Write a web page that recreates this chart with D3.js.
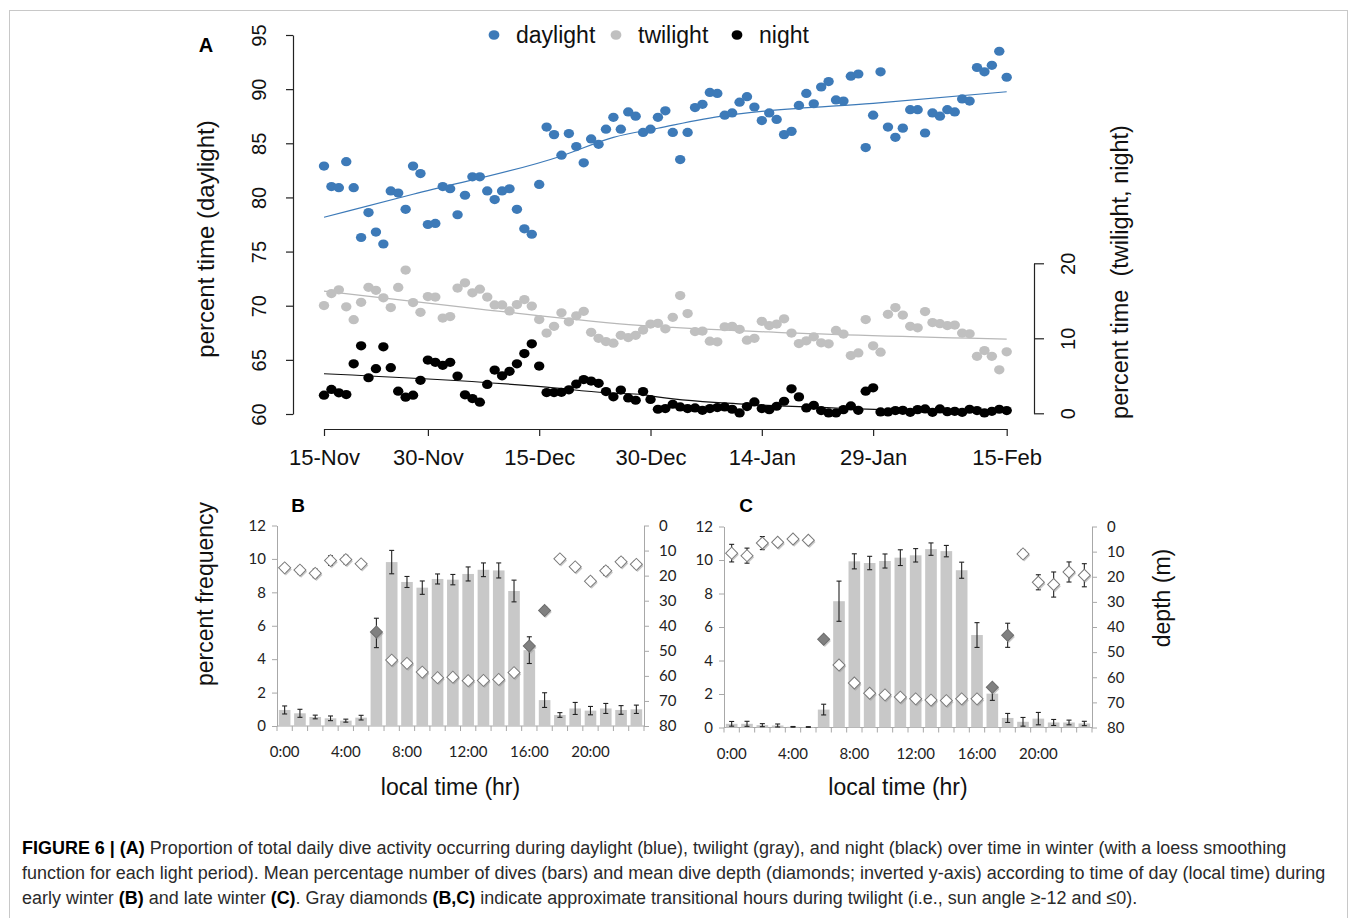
<!DOCTYPE html>
<html>
<head>
<meta charset="utf-8">
<script src="https://cdn.jsdelivr.net/npm/d3@7"></script>
<style>
  body { margin: 0; background: #fff; }
  svg { display: block; }
</style>
</head>
<body>
<svg id="fig" width="1358" height="918"></svg>
<script>
// ---- panel A data (one point per day, day index 0..92) ----
const dayTickIdx = [0, 14, 29, 44, 59, 74, 92];
const dayTickLabels = ["15-Nov", "30-Nov", "15-Dec", "30-Dec", "14-Jan", "29-Jan", "15-Feb"];

const daylight = [82.9, 81.0, 80.9, 83.3, 80.9, 76.3, 78.6, 76.8, 75.7, 80.6,
  80.4, 78.9, 82.9, 82.2, 77.5, 77.6, 81.0, 80.8, 78.4, 80.2,
  81.9, 81.9, 80.6, 79.8, 80.6, 80.8, 78.9, 77.1, 76.6, 81.2,
  86.5, 85.8, 83.9, 85.9, 84.7, 83.2, 85.4, 84.9, 86.3, 87.4,
  86.3, 87.9, 87.5, 86.0, 86.3, 87.4, 88.0, 86.0, 83.5, 86.0,
  88.3, 88.6, 89.7, 89.6, 87.6, 87.8, 88.8, 89.3, 88.35, 87.1,
  87.8, 87.2, 85.8, 86.1, 88.5, 89.6, 88.65, 90.2, 90.7, 89.0,
  88.9, 91.2, 91.4, 84.6, 87.6, 91.6, 86.5, 85.55, 86.4, 88.1,
  88.1, 85.95, 87.8, 87.5, 88.1, 87.9, 89.1, 88.9, 92.0, 91.6,
  92.2, 93.5, 91.1];

const twilight = [14.36, 15.97, 16.47, 14.2, 12.48, 14.8, 16.8, 16.4, 15.4, 14.1,
  16.78, 19.1, 14.77, 13.47, 15.57, 15.5, 12.7, 12.9, 16.7, 17.4,
  16.06, 16.55, 15.5, 14.45, 14.45, 13.65, 14.5, 15.17, 14.3, 12.5,
  10.7, 11.6, 13.4, 12.2, 13.0, 13.6, 10.8, 10.0, 9.57, 9.35,
  10.4, 10.1, 10.4, 11.1, 11.9, 12.0, 11.27, 12.8, 15.7, 13.3,
  10.9, 10.96, 9.62, 9.53, 11.54, 11.6, 11.2, 9.75, 10.0, 12.26,
  11.7, 11.9, 12.6, 10.7, 9.3, 9.66, 10.2, 9.4, 9.26, 11.05,
  10.56, 7.7, 8.05, 12.5, 9.0, 8.15, 13.2, 14.1, 13.1, 11.6,
  11.4, 13.56, 12.1, 11.95, 11.7, 11.77, 10.7, 10.6, 7.6, 8.36,
  7.6, 5.8, 8.2];

const night = [2.42, 3.18, 2.73, 2.5, 6.6, 9.0, 4.74, 5.95, 8.86, 6.08,
  2.95, 2.15, 2.42, 4.4, 7.1, 6.8, 6.4, 6.8, 4.97, 2.46,
  1.97, 1.48, 3.85, 5.77, 5.0, 5.6, 6.6, 7.96, 9.26, 6.3,
  2.77, 2.77, 2.8, 3.13, 3.9, 4.5, 4.3, 4.0, 2.9, 2.2,
  3.1, 2.05, 1.74, 2.9, 1.84, 0.54, 0.63, 1.21, 0.85, 0.63,
  0.72, 0.4, 0.63, 0.76, 0.85, 0.54, 0.05, 0.9, 1.52, 0.63,
  0.49, 0.94, 1.61, 3.27, 2.19, 0.72, 1.07, 0.36, 0.05, 0.05,
  0.49, 0.98, 0.4, 2.95, 3.4, 0.18, 0.18, 0.36, 0.4, 0.13,
  0.49, 0.58, 0.13, 0.58, 0.22, 0.27, 0.13, 0.54, 0.36, 0.05,
  0.27, 0.54, 0.36];

// loess curves: [day index, value]
const daylightFit = [[0, 78.17], [12, 80.29], [32, 83.83], [39, 85.55], [45, 86.39], [54, 87.55], [60, 88.01], [74, 88.69], [92, 89.76]];
const twilightFit = [[0, 16.3], [21, 13.9], [43, 11.7], [47, 11.45], [61, 10.8], [92, 9.9]];
const nightFit = [[0, 5.27], [30, 3.49], [38, 2.73], [43, 2.5], [44, 2.32], [57, 1.21], [69, 0.71], [75, 0.5], [92, 0.3]];

// ---- panels B and C data (hour of day 0..23) ----
const hours = d3.range(24);
const hourTicks = [0, 4, 8, 12, 16, 20];

const earlyPct = [0.96, 0.76, 0.54, 0.46, 0.32, 0.5, 5.57, 9.81, 8.62, 8.28, 8.8, 8.76,
  9.1, 9.35, 9.31, 8.08, 4.54, 1.55, 0.66, 1.05, 0.92, 1.05, 0.96, 1.0];
const earlyPctErr = [0.24, 0.24, 0.11, 0.14, 0.09, 0.14, 0.88, 0.7, 0.33, 0.4, 0.3, 0.31,
  0.42, 0.41, 0.45, 0.65, 0.8, 0.44, 0.14, 0.36, 0.25, 0.3, 0.26, 0.25];
const earlyDepth = [16.9, 17.8, 19.1, 14.0, 13.6, 15.3, 42.5, 53.7, 55.0, 58.5, 60.7, 60.5,
  61.9, 61.8, 61.4, 58.7, 48.1, 33.9, 13.3, 16.5, 22.2, 18.1, 14.5, 15.5];
const earlyDepthErr = [1.4, 1.5, 1.7, 1.9, 1.7, 1.2, 1.0, 0.8, 0.8, 0.8, 0.8, 0.8,
  0.8, 0.8, 0.8, 0.8, 1.0, 1.5, 1.3, 1.3, 1.5, 1.7, 1.5, 1.5];
const earlyTwilight = [6, 16, 17];

const latePct = [0.22, 0.22, 0.14, 0.12, 0.04, 0.03, 1.07, 7.54, 9.92, 9.82, 9.94, 10.14,
  10.28, 10.65, 10.53, 9.39, 5.52, 2.02, 0.57, 0.34, 0.53, 0.3, 0.3, 0.24];
const latePctErr = [0.14, 0.15, 0.09, 0.09, 0.02, 0.02, 0.32, 1.2, 0.45, 0.4, 0.42, 0.47,
  0.4, 0.37, 0.34, 0.48, 0.74, 0.4, 0.27, 0.26, 0.37, 0.18, 0.14, 0.13];
const lateDepth = [10.6, 11.6, 6.6, 6.3, 5.0, 5.5, 44.9, 55.1, 62.3, 66.4, 67.0, 67.9,
  68.6, 69.1, 69.3, 68.6, 68.6, 64.0, 43.3, 10.9, 22.2, 23.1, 18.1, 19.4];
const lateDepthErr = [3.5, 3.0, 2.6, 1.2, 0.8, 0.8, 1.2, 0.8, 0.8, 0.8, 0.8, 0.8,
  0.8, 0.8, 0.8, 0.8, 0.8, 1.0, 4.8, 1.5, 3.0, 5.0, 4.0, 4.6];
const lateTwilight = [6, 17, 18];

// ---- fonts & colours ----
const FA = "'Liberation Sans', Arial, Helvetica, sans-serif";
const FB = "Lato, 'Open Sans', sans-serif";
const BLUE = "#3d7ab8", GREY = "#c0c0c0", BLACK = "#000";

const svg = d3.select("#fig");

// figure frame
svg.append("rect").attr("x", 9.5).attr("y", 10.5).attr("width", 1338).attr("height", 930)
  .attr("fill", "none").attr("stroke", "#c8c8c8");

// ================= panel A =================
const xA = d3.scaleLinear().domain([0, 92]).range([324, 1006.7]);
const yDay = d3.scaleLinear().domain([60, 95]).range([414, 35]);
const yTN = d3.scaleLinear().domain([0, 20]).range([413.3, 263.3]);

const gA = svg.append("g");

function styleAxisA(g) {
  g.select(".domain").attr("stroke", "#222").attr("stroke-width", 1.2);
  g.selectAll(".tick line").attr("stroke", "#222").attr("stroke-width", 1.2);
  g.selectAll("text").attr("fill", "#111").style("font-family", FA);
}

gA.append("g").attr("transform", "translate(0,429)")
  .call(d3.axisBottom(xA).tickValues(dayTickIdx).tickFormat((d, i) => dayTickLabels[i])
    .tickSize(7).tickSizeOuter(0))
  .call(styleAxisA)
  .call(g => g.selectAll("text").attr("y", 20).attr("dy", "0.71em").style("font-size", "22px"));

gA.append("g").attr("transform", "translate(293,0)")
  .call(d3.axisLeft(yDay).tickValues(d3.range(60, 96, 5)).tickSize(7).tickSizeOuter(0))
  .call(styleAxisA)
  .call(g => g.selectAll("text").attr("x", null).attr("dy", null)
    .attr("transform", "translate(-34,0) rotate(-90)")
    .attr("text-anchor", "middle").attr("dominant-baseline", "central")
    .style("font-size", "20px"));

gA.append("g").attr("transform", "translate(1034,0)")
  .call(d3.axisRight(yTN).tickValues([0, 10, 20]).tickSize(10).tickSizeOuter(0))
  .call(styleAxisA)
  .call(g => g.selectAll("text").attr("x", null).attr("dy", null)
    .attr("transform", "translate(34,0) rotate(-90)")
    .attr("text-anchor", "middle").attr("dominant-baseline", "central")
    .style("font-size", "20px"));

// loess lines
const fitLine = y => d3.line().x(d => xA(d[0])).y(d => y(d[1])).curve(d3.curveMonotoneX);
gA.append("path").datum(twilightFit).attr("d", fitLine(yTN)).attr("fill", "none")
  .attr("stroke", "#b8b8b8").attr("stroke-width", 1.3);
gA.append("path").datum(nightFit).attr("d", fitLine(yTN)).attr("fill", "none")
  .attr("stroke", "#111").attr("stroke-width", 1.2);
gA.append("path").datum(daylightFit).attr("d", fitLine(yDay)).attr("fill", "none")
  .attr("stroke", BLUE).attr("stroke-width", 1.2);

// points
const series = [
  { vals: twilight, y: yTN, col: GREY },
  { vals: night, y: yTN, col: BLACK },
  { vals: daylight, y: yDay, col: BLUE }
];
series.forEach(s => {
  gA.append("g").selectAll("ellipse").data(s.vals).join("ellipse")
    .attr("cx", (d, i) => xA(i)).attr("cy", d => s.y(d))
    .attr("rx", 5.2).attr("ry", 4.6).attr("fill", s.col);
});

// axis titles
gA.append("text").attr("transform", "translate(205,239) rotate(-90)")
  .attr("text-anchor", "middle").attr("dominant-baseline", "central")
  .style("font-family", FA).style("font-size", "24px").attr("fill", "#111")
  .text("percent time (daylight)");
gA.append("text").attr("transform", "translate(1120,272) rotate(-90)")
  .attr("text-anchor", "middle").attr("dominant-baseline", "central")
  .style("font-family", FA).style("font-size", "23.5px").style("white-space", "pre").attr("fill", "#111")
  .text("percent time  (twilight, night)");
gA.append("text").attr("x", 206).attr("y", 52).attr("text-anchor", "middle")
  .style("font-family", FA).style("font-size", "20px").style("font-weight", "bold").text("A");

// legend
const legendItems = [
  { name: "daylight", col: BLUE, x: 494 },
  { name: "twilight", col: GREY, x: 616 },
  { name: "night", col: BLACK, x: 737 }
];
const lg = gA.append("g").selectAll("g").data(legendItems).join("g")
  .attr("transform", d => `translate(${d.x},35)`);
lg.append("ellipse").attr("rx", 5.4).attr("ry", 4.8).attr("fill", d => d.col);
lg.append("text").attr("x", 22).attr("y", 8).style("font-family", FA).style("font-size", "23px")
  .attr("fill", "#111").text(d => d.name);

// ================= panels B and C =================
function hourPanel(o) {
  const g = svg.append("g");
  const x = d3.scaleBand().domain(hours).range([o.x0, o.x1]).paddingInner(0.24).paddingOuter(0.12);
  const step = x.step();
  const yP = d3.scaleLinear().domain([0, 12]).range([o.base, o.top]);
  const yD = d3.scaleLinear().domain([0, 80]).range([o.top, o.base]);
  const axisCol = "#a8a8a8";

  // left axis
  g.append("g").attr("transform", `translate(${o.x0},0)`)
    .call(d3.axisLeft(yP).tickValues(d3.range(0, 13, 2)).tickSize(5).tickSizeOuter(0).tickPadding(6))
    .call(a => {
      a.selectAll(".domain, .tick line").attr("stroke", axisCol);
      a.selectAll("text").attr("fill", "#222").style("font-family", FB).style("font-size", "15px");
    });
  // right axis
  g.append("g").attr("transform", `translate(${o.x1},0)`)
    .call(d3.axisRight(yD).tickValues(d3.range(0, 81, 10)).tickSize(5).tickSizeOuter(0).tickPadding(10))
    .call(a => {
      a.selectAll(".domain, .tick line").attr("stroke", axisCol);
      a.selectAll("text").attr("fill", "#222").style("font-family", FB).style("font-size", "15px");
    });
  // bottom axis: ticks between categories
  g.append("line").attr("x1", o.x0).attr("x2", o.x1).attr("y1", o.base).attr("y2", o.base)
    .attr("stroke", axisCol);
  g.append("g").selectAll("line").data(d3.range(25)).join("line")
    .attr("x1", d => o.x0 + d * step).attr("x2", d => o.x0 + d * step)
    .attr("y1", o.base).attr("y2", o.base + 5).attr("stroke", axisCol);
  g.append("g").selectAll("text").data(hourTicks).join("text")
    .attr("x", d => x(d) + x.bandwidth() / 2).attr("y", o.base + 31)
    .attr("text-anchor", "middle").style("font-family", FB).style("font-size", "15px")
    .attr("fill", "#222").text(d => d + ":00");

  // bars
  g.append("g").selectAll("rect").data(hours).join("rect")
    .attr("x", d => x(d)).attr("width", x.bandwidth())
    .attr("y", d => yP(o.pct[d])).attr("height", d => o.base - yP(o.pct[d]))
    .attr("fill", "#c8c8c8");

  // error bars (bars and diamonds)
  const cx = d => x(d) + x.bandwidth() / 2;
  const errs = [];
  hours.forEach(h => {
    errs.push({ h, lo: yP(o.pct[h] - o.pctErr[h]), hi: yP(o.pct[h] + o.pctErr[h]) });
    errs.push({ h, lo: yD(o.depth[h] + o.depthErr[h]), hi: yD(o.depth[h] - o.depthErr[h]) });
  });
  const eg = g.append("g").attr("stroke", "#222").attr("stroke-width", 1.1);
  errs.forEach(e => {
    eg.append("line").attr("x1", cx(e.h)).attr("x2", cx(e.h)).attr("y1", e.lo).attr("y2", e.hi);
    eg.append("line").attr("x1", cx(e.h) - 2.5).attr("x2", cx(e.h) + 2.5).attr("y1", e.lo).attr("y2", e.lo);
    eg.append("line").attr("x1", cx(e.h) - 2.5).attr("x2", cx(e.h) + 2.5).attr("y1", e.hi).attr("y2", e.hi);
  });

  // diamonds with a soft shadow
  const diamond = d3.symbol().type(d3.symbolSquare).size(72);
  g.append("g").selectAll("path").data(hours).join("path")
    .attr("d", diamond)
    .attr("transform", d => `translate(${cx(d) + 1.2},${yD(o.depth[d]) + 1.6}) rotate(45)`)
    .attr("fill", "#9a9a9a").attr("opacity", 0.55);
  g.append("g").selectAll("path").data(hours).join("path")
    .attr("d", diamond)
    .attr("transform", d => `translate(${cx(d)},${yD(o.depth[d])}) rotate(45)`)
    .attr("fill", d => o.twi.includes(d) ? "#808080" : "#fff")
    .attr("stroke", d => o.twi.includes(d) ? "#6e6e6e" : "#7a7a7a").attr("stroke-width", 1);

  // panel letter and titles
  g.append("text").attr("x", o.letterX).attr("y", 512).attr("text-anchor", "middle")
    .style("font-family", FA).style("font-size", "19px").style("font-weight", "bold").text(o.letter);
  g.append("text").attr("x", (o.x0 + o.x1) / 2 - 10).attr("y", 795).attr("text-anchor", "middle")
    .style("font-family", FA).style("font-size", "23px").attr("fill", "#111").text("local time (hr)");
}

hourPanel({ x0: 277, x1: 644, base: 726, top: 525.5, pct: earlyPct, pctErr: earlyPctErr,
  depth: earlyDepth, depthErr: earlyDepthErr, twi: earlyTwilight, letter: "B", letterX: 298 });
hourPanel({ x0: 724, x1: 1092, base: 727.5, top: 526.5, pct: latePct, pctErr: latePctErr,
  depth: lateDepth, depthErr: lateDepthErr, twi: lateTwilight, letter: "C", letterX: 746 });

svg.append("text").attr("transform", "translate(205,594) rotate(-90)")
  .attr("text-anchor", "middle").attr("dominant-baseline", "central")
  .style("font-family", FA).style("font-size", "23px").attr("fill", "#111").text("percent frequency");
svg.append("text").attr("transform", "translate(1162,598) rotate(-90)")
  .attr("text-anchor", "middle").attr("dominant-baseline", "central")
  .style("font-family", FA).style("font-size", "23px").attr("fill", "#111").text("depth (m)");

// ================= caption =================
const captionLines = [
  [["FIGURE 6 | (A)", true], [" Proportion of total daily dive activity occurring during daylight (blue), twilight (gray), and night (black) over time in winter (with a loess smoothing", false]],
  [["function for each light period). Mean percentage number of dives (bars) and mean dive depth (diamonds; inverted y-axis) according to time of day (local time) during", false]],
  [["early winter ", false], ["(B)", true], [" and late winter ", false], ["(C)", true], [". Gray diamonds ", false], ["(B,C)", true], [" indicate approximate transitional hours during twilight (i.e., sun angle \u2265-12 and \u22640).", false]]
];
const capG = svg.append("g");
const capTexts = captionLines.map((parts, li) => {
  const t = capG.append("text").attr("y", 854 + li * 25)
    .style("font-family", "'Liberation Sans Narrow', 'Liberation Sans', Arial, sans-serif")
    .style("font-size", "19px").style("white-space", "pre").attr("fill", "#2a2a2a");
  parts.forEach(p => t.append("tspan").style("font-weight", p[1] ? "bold" : "normal")
    .attr("fill", p[1] ? "#000" : "#2a2a2a").text(p[0]));
  return t;
});
// fit the caption to the column width measured on the second line
const k = 1304 / capTexts[1].node().getComputedTextLength();
capTexts.forEach((t, li) => t.attr("y", null)
  .attr("transform", `translate(22,${854 + li * 25}) scale(${k},1)`));
</script>
</body>
</html>
